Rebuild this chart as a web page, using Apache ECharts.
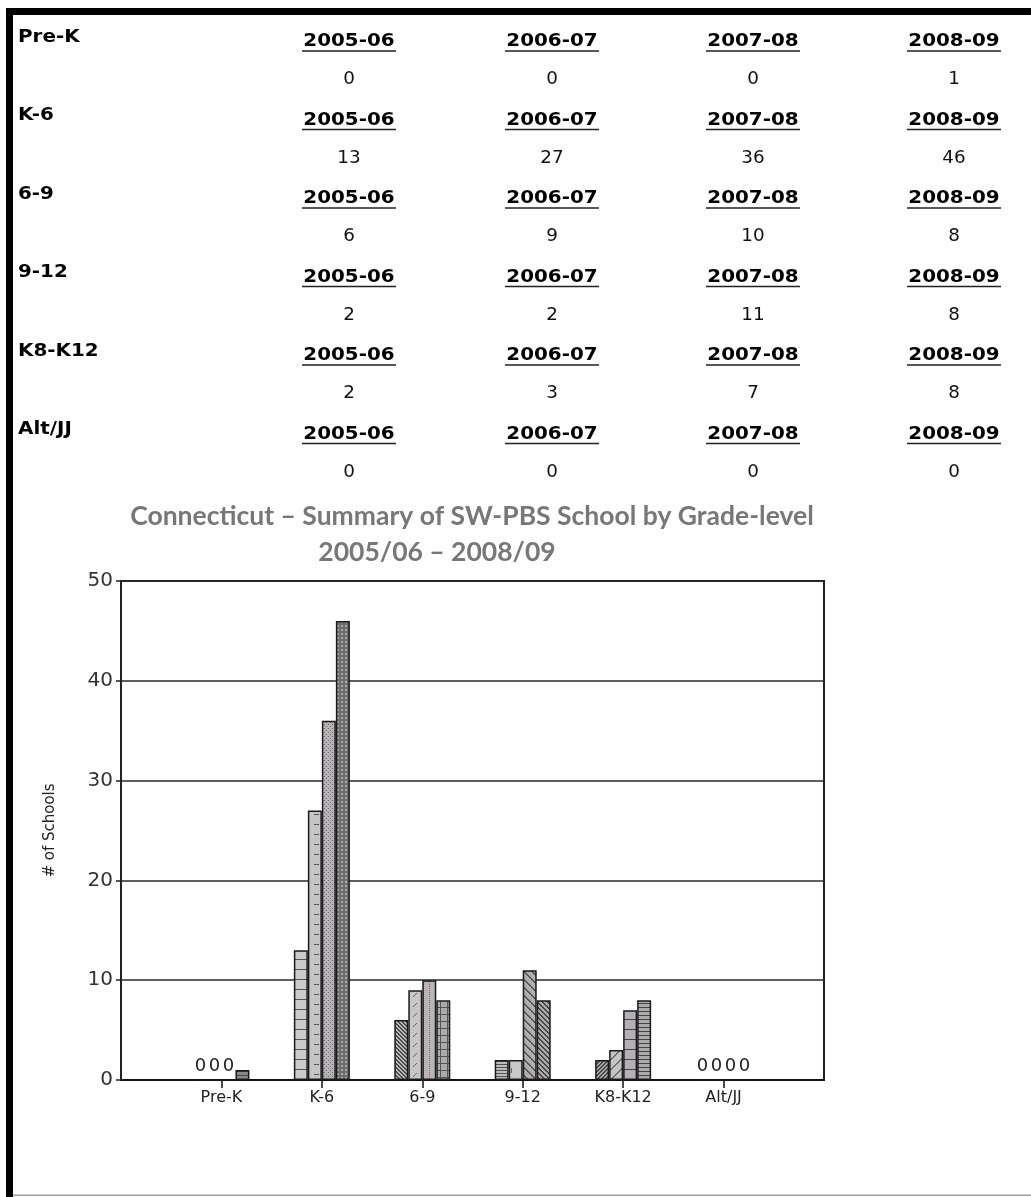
<!DOCTYPE html>
<html>
<head>
<meta charset="utf-8">
<script src="https://cdn.jsdelivr.net/npm/echarts@6/dist/echarts.min.js"></script>
<style>
html,body{margin:0;padding:0;background:#fff;}
#chart{width:1031px;height:1197px;}
</style>
</head>
<body>
<div id="chart"></div>
<script>
// ---------- DATA ----------
const categories = ['Pre-K', 'K-6', '6-9', '9-12', 'K8-K12', 'Alt/JJ'];
const years = ['2005-06', '2006-07', '2007-08', '2008-09'];
const schools2005 = [0, 13, 6, 2, 2, 0];
const schools2006 = [0, 27, 9, 2, 3, 0];
const schools2007 = [0, 36, 10, 11, 7, 0];
const schools2008 = [1, 46, 8, 8, 8, 0];
const seriesValues = [schools2005, schools2006, schools2007, schools2008];
const yTickLabels = [0, 10, 20, 30, 40, 50];
const chartTitle = 'Connecticut – Summary of SW-PBS School by Grade-level';
const chartSubtitle = '2005/06 – 2008/09';
const yAxisName = '# of Schools';

// ---------- STYLES (fill patterns per bar: [category][year]) ----------
const patternStyles = [
  [ {kind:'h', s:6, bg:'#c0c0c0', fg:'#555'}, {kind:'h', s:6, bg:'#c0c0c0', fg:'#555'}, {kind:'h', s:6, bg:'#c0c0c0', fg:'#555'}, {kind:'h', s:4, bg:'#8a8a8a', fg:'#444'} ],
  [ {kind:'h', s:10, bg:'#cacaca', fg:'#555'}, {kind:'dash', s:10, bg:'#c4c4c4', fg:'#555'}, {kind:'dots', s:4, bg:'#b6b2b6', fg:'#6a6a6a'}, {kind:'sq', s:4, bg:'#6e6e6e', fg:'#a8a8a8'} ],
  [ {kind:'bd', s:4, bg:'#bdbdbd', fg:'#4a4a4a'}, {kind:'fdash', s:10, bg:'#c6c6c6', fg:'#6a6a6a'}, {kind:'vdot', s:6, bg:'#b8b4b8', fg:'#707070'}, {kind:'grid', s:7, bg:'#ababab', fg:'#555'} ],
  [ {kind:'h', s:3, bg:'#bdbdbd', fg:'#505050'}, {kind:'vmark', s:14, bg:'#c8c8c8', fg:'#666'}, {kind:'bd', s:8, bg:'#b0acb0', fg:'#555'}, {kind:'bd', s:5, bg:'#ababab', fg:'#454545'} ],
  [ {kind:'fd', s:4, bg:'#ababab', fg:'#454545'}, {kind:'fd', s:10, bg:'#c4c4c4', fg:'#707070'}, {kind:'h', s:10, bg:'#b4b0b4', fg:'#454545'}, {kind:'h', s:4, bg:'#ababab', fg:'#454545'} ],
  [ {kind:'h', s:6, bg:'#c0c0c0', fg:'#555'}, {kind:'h', s:6, bg:'#c0c0c0', fg:'#555'}, {kind:'h', s:6, bg:'#c0c0c0', fg:'#555'}, {kind:'h', s:6, bg:'#c0c0c0', fg:'#555'} ]
];

function makePattern(p) {
  const s = p.s;
  const c = document.createElement('canvas');
  c.width = s; c.height = s;
  const g = c.getContext('2d');
  g.fillStyle = p.bg; g.fillRect(0, 0, s, s);
  g.fillStyle = p.fg;
  switch (p.kind) {
    case 'h': g.fillRect(0, s - 1, s, 1); break;
    case 'grid': g.fillRect(0, s - 1, s, 1); g.fillRect(s - 1, 0, 1, s); break;
    case 'bd': for (let i = 0; i < s; i++) { g.fillRect(i, i, 1, 1); g.fillRect((i + 1) % s, i, 1, 1); } break;
    case 'fd': for (let i = 0; i < s; i++) { g.fillRect(s - 1 - i, i, 1, 1); g.fillRect((s - i) % s, i, 1, 1); } break;
    case 'dash': g.fillRect(4, 4, 5, 1); break;
    case 'fdash': for (let i = 0; i < 4; i++) g.fillRect(6 - i, 3 + i, 1, 1); break;
    case 'dots': g.fillRect(0, 0, 1, 1); g.fillRect(2, 2, 1, 1); break;
    case 'sq': g.fillRect(1, 1, 2, 2); break;
    case 'vdot': for (let y = 0; y < s; y += 2) g.fillRect(3, y, 1, 1); break;
    case 'vmark': g.fillRect(7, 4, 1, 5); break;
  }
  return { image: c, repeat: 'repeat' };
}

// ---------- TABLE (text) ----------
const colX = [349, 552, 753, 954];
const rowTop = 42, rowPitch = 78.5;
const tableEls = [];
categories.forEach((cat, ci) => {
  const y0 = rowTop + ci * rowPitch;
  tableEls.push({ type: 'text', x: 18, y: y0 - 4.5, scaleX: 1.17,
    style: { text: cat, fill: '#000', font: 'bold 17px "DejaVu Sans"', align: 'left', verticalAlign: 'middle' } });
  years.forEach((yr, yi) => {
    tableEls.push({ type: 'text', x: colX[yi], y: y0, scaleX: 1.17,
      style: { text: yr, fill: '#000', font: 'bold 17px "DejaVu Sans"', align: 'center', verticalAlign: 'middle' } });
    tableEls.push({ type: 'line', shape: { x1: colX[yi] - 47, y1: y0 + 9, x2: colX[yi] + 47, y2: y0 + 9 },
      style: { stroke: '#222', lineWidth: 1.6 } });
    tableEls.push({ type: 'text', x: colX[yi], y: y0 + 38, scaleX: 1.08,
      style: { text: String(seriesValues[yi][ci]), fill: '#111', font: '17px "DejaVu Sans"', align: 'center', verticalAlign: 'middle' } });
  });
});
// page border
tableEls.push({ type: 'rect', shape: { x: 6, y: 8, width: 1025, height: 7 }, style: { fill: '#000' } });
tableEls.push({ type: 'rect', shape: { x: 6, y: 8, width: 7, height: 1189 }, style: { fill: '#000' } });
tableEls.push({ type: 'rect', shape: { x: 13, y: 1194.5, width: 1018, height: 1.5 }, style: { fill: '#a0a0a0' } });

// ---------- CHART ----------
const xData = [''].concat(categories, ['']);
const pad = arr => [null].concat(arr, [null]);

const chart = echarts.init(document.getElementById('chart'), null, { renderer: 'canvas' });
chart.setOption({
  animation: false,
  backgroundColor: '#fff',
  title: [
    { text: chartTitle, left: 472, top: 503, textAlign: 'center', padding: 0,
      textStyle: { fontFamily: 'Lato', fontWeight: 'bold', fontSize: 26.5, color: '#777777' } },
    { text: chartSubtitle, left: 437, top: 539, textAlign: 'center', padding: 0,
      textStyle: { fontFamily: 'Lato', fontWeight: 'bold', fontSize: 26.5, color: '#777777' } }
  ],
  grid: { left: 121, right: 207, top: 581, bottom: 117, show: true, borderColor: '#222', borderWidth: 2, containLabel: false },
  xAxis: {
    type: 'category', data: xData, boundaryGap: false,
    axisLine: { show: true, lineStyle: { color: '#111', width: 2 } },
    axisTick: { show: true, length: 8, lineStyle: { color: '#111', width: 1.5 },
      interval: (idx) => idx > 0 && idx < xData.length - 1 },
    axisLabel: { fontFamily: 'DejaVu Sans', fontSize: 16, color: '#222', margin: 10, interval: 0 },
    splitLine: { show: false }
  },
  yAxis: {
    type: 'value', min: yTickLabels[0], max: yTickLabels[yTickLabels.length - 1],
    interval: yTickLabels[1] - yTickLabels[0],
    name: yAxisName, nameLocation: 'middle', nameGap: 63, nameRotate: 90,
    nameTextStyle: { fontFamily: 'DejaVu Sans', fontSize: 15, color: '#222' },
    axisLine: { show: true, lineStyle: { color: '#222', width: 2 } },
    axisTick: { show: true, length: 5, lineStyle: { color: '#222', width: 1.5 } },
    axisLabel: { fontFamily: 'DejaVu Sans', fontSize: 20, color: '#333', margin: 8 },
    splitLine: { show: true, lineStyle: { color: '#2a2a2a', width: 1.6 } }
  },
  series: seriesValues.map((vals, si) => ({
    type: 'bar', name: years[si], barWidth: 14, barGap: '0%',
    data: pad(vals).map((v, ci) => v === null ? null :
      { value: v, itemStyle: { color: makePattern(patternStyles[ci - 1][si]) } }),
    itemStyle: { borderColor: '#1a1a1a', borderWidth: 1.5 },
    label: { show: true, position: 'top', distance: 4,
      formatter: p => (p.value === 0 ? '0' : ''),
      fontFamily: 'DejaVu Sans', fontSize: 18, color: '#222' }
  })),
  graphic: { elements: tableEls }
});
</script>
</body>
</html>
